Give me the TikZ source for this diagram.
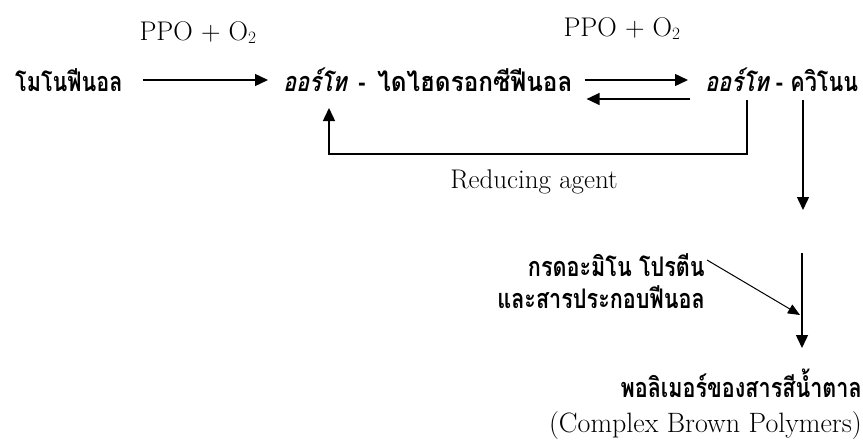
\documentclass[tikz,border=0pt]{standalone}
\usepackage{fontspec}
\usetikzlibrary{arrows.meta}
\newfontfamily\thai[Script=Thai,FakeStretch=0.8]{Loma}
\newfontfamily\thaiw[Script=Thai,FakeStretch=0.9]{Loma}
\newfontfamily\thaiit[Script=Thai,FakeStretch=0.8,FakeSlant=0.22]{Loma}
\begin{document}
\begin{tikzpicture}[x=1pt,y=-1pt,
  thtext/.style={font=\thai\bfseries\fontsize{27}{30}\selectfont, inner sep=0pt},
  lat/.style={font=\fontsize{27}{30}\selectfont, inner sep=0pt},
  arr/.style={line width=1.4pt, -{Triangle[length=13pt,width=12pt]}}]
\useasboundingbox[fill=white] (0,0) rectangle (863,442);
% nodes
\node[thtext, anchor=west] (mono) at (15,80) {โมโนฟีนอล};
\node[thtext, anchor=west] (dihyd) at (283,80) {{\thaiit\bfseries ออร์โท}\, - \,{\thaiw\bfseries ไดไฮดรอกซีฟีนอล}};
\node[thtext, anchor=west] (quin) at (705,80) {{\thaiit\bfseries ออร์โท} - ควิโนน};
\node[lat, anchor=base] (ppo1) at (198,40) {PPO + O$_{2}$};
\node[lat, anchor=base] (ppo2) at (622,36) {PPO + O$_{2}$};
\node[lat] (red) at (534,182) {Reducing agent};
\node[thtext, anchor=east] (amino) at (705,265) {กรดอะมิโน โปรตีน};
\node[thtext, anchor=east] (phen) at (705,297) {และสารประกอบฟีนอล};
\node[thtext, anchor=east] (poly) at (862,383) {พอลิเมอร์ของสารสีน้ำตาล};
\node[lat, anchor=east, font=\fontsize{28}{30}\selectfont] (cbp) at (862,426) {(Complex Brown Polymers)};
% coordinates
\coordinate (r1) at (747,100);
\coordinate (r2) at (329,108);
\coordinate (d1s) at (803,100);
\coordinate (d1e) at (803,210);
\coordinate (d2s) at (802,253);
\coordinate (d2e) at (802,348);
\coordinate (dg) at (800,315);
% connectors
\draw[arr] ([xshift=20pt]mono.east) -- ([xshift=-15pt]dihyd.west);
\draw[arr] ([xshift=12pt]dihyd.east) -- ([xshift=-17pt]quin.west);
\draw[arr] ([xshift=-15pt,yshift=-19pt]quin.west) -- ([xshift=14pt,yshift=-19pt]dihyd.east);
\draw[arr] (r1) -- (r1 |- 0,154) -| (r2);
\draw[arr] (d1s) -- (d1e);
\draw[arr] (d2s) -- (d2e);
\draw[line width=1pt, -{Triangle[length=12pt,width=10pt]}] ([xshift=2pt,yshift=5pt]amino.east) -- (dg);
\end{tikzpicture}
\end{document}
